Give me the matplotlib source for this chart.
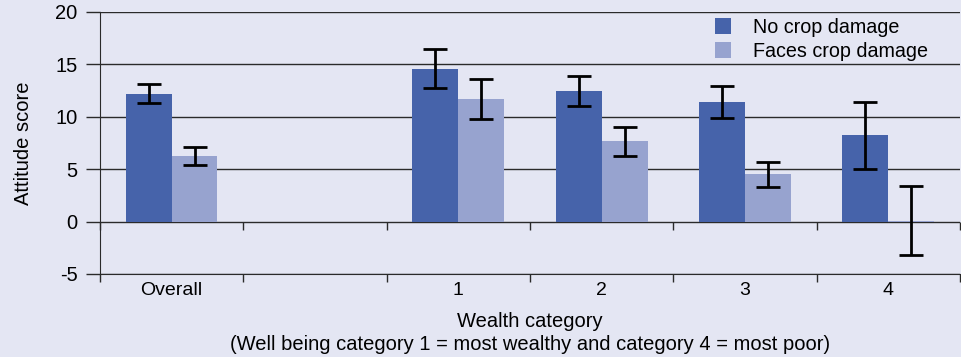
import matplotlib.pyplot as plt
import numpy as np

plt.rcParams['font.family'] = ['Liberation Sans', 'DejaVu Sans']
plt.rcParams['axes.unicode_minus'] = False

categories = ['Overall', '', '1', '2', '3', '4']
group_pos = [0, 2, 3, 4, 5]
no_damage = [12.2, 14.6, 12.45, 11.4, 8.25]
no_damage_err = [0.9, 1.9, 1.4, 1.5, 3.2]
damage = [6.25, 11.7, 7.65, 4.5, 0.1]
damage_err = [0.85, 1.9, 1.4, 1.2, 3.25]

bg = '#e4e6f3'
dark = '#4663aa'
light = '#97a3cf'

fig = plt.figure(figsize=(9.61, 3.57), dpi=100, facecolor=bg)
ax = fig.add_axes([0.104, 0.2325, 0.895, 0.734], facecolor=bg)

w = 0.32
x = np.array(group_pos)
err_kw = dict(ecolor='black', elinewidth=2.0, capsize=8.3, capthick=2.0)
ax.bar(x - w / 2, no_damage, w, color=dark, yerr=no_damage_err,
       error_kw=err_kw, label='No crop damage', zorder=3)
ax.bar(x + w / 2, damage, w, color=light, yerr=damage_err,
       error_kw=err_kw, label='Faces crop damage', zorder=3)

ax.set_xlim(-0.5, len(categories) - 0.5)
ax.set_ylim(-5, 20)
ax.set_yticks(range(-5, 21, 5))
ax.yaxis.grid(True, color='#2a2a2a', linewidth=1.0, zorder=1)
ax.set_axisbelow(True)

# category labels at slot centres, boundary ticks on the bottom line
ax.set_xticks(range(len(categories)))
ax.set_xticklabels(categories)
ax.tick_params(axis='x', which='major', length=0, pad=6, labelsize=14)
bounds = np.arange(len(categories) + 1) - 0.5
ax.set_xticks(bounds, minor=True)
ax.tick_params(axis='x', which='minor', length=6, width=1, color='#2a2a2a',
               direction='out')
ax.tick_params(axis='y', length=10, width=1, color='#2a2a2a', pad=6,
               labelsize=14.5)

# same boundary ticks hanging under the zero line
zero = ax.secondary_xaxis(5 / 25)
zero.set_xticks(bounds)
zero.set_xticklabels([])
zero.tick_params(length=6, width=1, color='#2a2a2a', direction='out')
zero.spines['bottom'].set_visible(False)

for s in ['top', 'right']:
    ax.spines[s].set_visible(False)
ax.spines['left'].set_color('#2a2a2a')
ax.spines['bottom'].set_color('#2a2a2a')

ax.set_ylabel('Attitude score', fontsize=14.5, labelpad=16)
ax.set_xlabel('Wealth category\n(Well being category 1 = most wealthy and category 4 = most poor)',
              fontsize=14.5, labelpad=9, linespacing=1.3)

ax.legend(loc='upper left', bbox_to_anchor=(0.695, 1.045), frameon=False,
          fontsize=14.2, handlelength=0.8, handleheight=0.9, handletextpad=1.1,
          labelspacing=0.25)

fig.savefig('out.png', dpi=100, facecolor=bg)
